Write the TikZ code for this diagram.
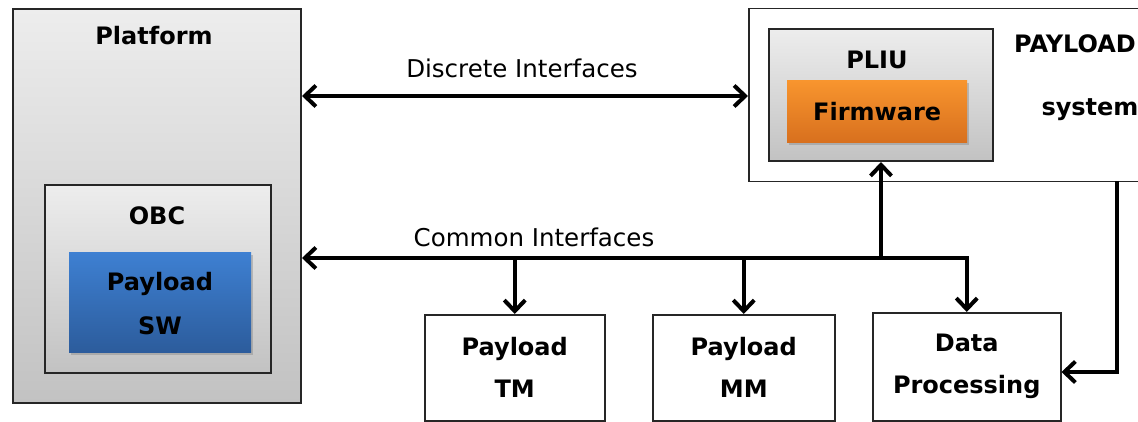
\documentclass[tikz,border=0pt]{standalone}
\usepackage{fontspec}
\setmainfont{DejaVu Sans}
\usetikzlibrary{arrows.meta,shadows,calc}
\definecolor{gtop}{HTML}{EDEDED}
\definecolor{gbot}{HTML}{C2C2C2}
\definecolor{btop}{HTML}{3E80D2}
\definecolor{bbot}{HTML}{2C5C9C}
\definecolor{otop}{HTML}{F8952E}
\definecolor{obot}{HTML}{D8701E}
\tikzset{
  graybox/.style={draw=black!85, line width=2pt, top color=gtop, bottom color=gbot, inner sep=0pt, anchor=north west},
  whitebox/.style={draw=black!85, line width=1.5pt, fill=white, inner sep=0pt, anchor=north west},
  bluebox/.style={draw=none, top color=btop, bottom color=bbot, inner sep=0pt, anchor=north west, drop shadow={shadow xshift=2pt, shadow yshift=-3pt, opacity=0.4}},
  orangebox/.style={draw=none, top color=otop, bottom color=obot, inner sep=0pt, anchor=north west, drop shadow={shadow xshift=2pt, shadow yshift=-3pt, opacity=0.4}},
  lbl/.style={font=\fontsize{24}{28}\selectfont\bfseries, align=center, inner sep=0pt},
  ilbl/.style={font=\fontsize{24.5}{28}\selectfont, inner sep=0pt},
  conn/.style={line width=4.5pt, draw=black},
  tip/.tip={Straight Barb[length=11pt,width=21pt,line width=4pt]},
}
\begin{document}
\begin{tikzpicture}[x=1pt,y=-1pt]
\useasboundingbox (0,0) rectangle (1138,422);
\fill[white] (0,0) rectangle (1138,422);
% Platform
\node[graybox, minimum width=288pt, minimum height=394pt] (platform) at (12,8) {};
\node[lbl] (platformlbl) at (154,36) {Platform};
\node[graybox, minimum width=226pt, minimum height=188pt] (obc) at (44,184) {};
\node[lbl] (obclbl) at (157,216) {OBC};
\node[bluebox, minimum width=182pt, minimum height=100pt] (sw) at (69,252) {};
\node[lbl] (swlbl) at (160,304) {Payload\\[16pt]SW};
% Payload system
\node[whitebox, minimum width=400pt, minimum height=173pt] (paysys) at (748,8) {};
\node[lbl] (paylbl) at (1075,44) {PAYLOAD};
\node[lbl] (syslbl) at (1090,110) {system};
\node[graybox, minimum width=224pt, minimum height=132pt] (pliu) at (768,28) {};
\node[lbl] (pliulbl) at (877,60) {PLIU};
\node[orangebox, minimum width=180pt, minimum height=62pt] (fw) at (787,80) {};
\node[lbl] (fwlbl) at (fw.center) {Firmware};
% bottom boxes
\node[whitebox, minimum width=180pt, minimum height=106pt] (tm) at (424,314) {};
\node[lbl] (tmlbl) at (tm.center) {Payload\\[14pt]TM};
\node[whitebox, minimum width=182pt, minimum height=106pt] (mm) at (652,314) {};
\node[lbl] (mmlbl) at (mm.center) {Payload\\[14pt]MM};
\node[whitebox, minimum width=188pt, minimum height=108pt] (dp) at (872,312) {};
\node[lbl] (dplbl) at (dp.center) {Data\\[14pt]Processing};
% connectors
\coordinate (disc) at (522,96);
\coordinate (bus) at (600,258);
\coordinate (rt) at (1117,181);
\coordinate (rb) at (1117,372);
\draw[conn, {tip}-{tip}] (platform.east |- disc) -- (paysys.west |- disc);
\node[ilbl] (disclbl) at (522,68) {Discrete Interfaces};
\draw[conn, {tip}-{tip}] (platform.east |- bus) -| (dp.north);
\node[ilbl] (commlbl) at (534,237) {Common Interfaces};
\draw[conn, -{tip}] (tm.north |- bus) -- (tm.north);
\draw[conn, -{tip}] (mm.north |- bus) -- (mm.north);
\draw[conn, -{tip}] (pliu.south |- bus) -- (pliu.south);
\draw[conn, -{tip}] (rt) -- (rb) -- (dp.east |- rb);
\end{tikzpicture}
\end{document}
